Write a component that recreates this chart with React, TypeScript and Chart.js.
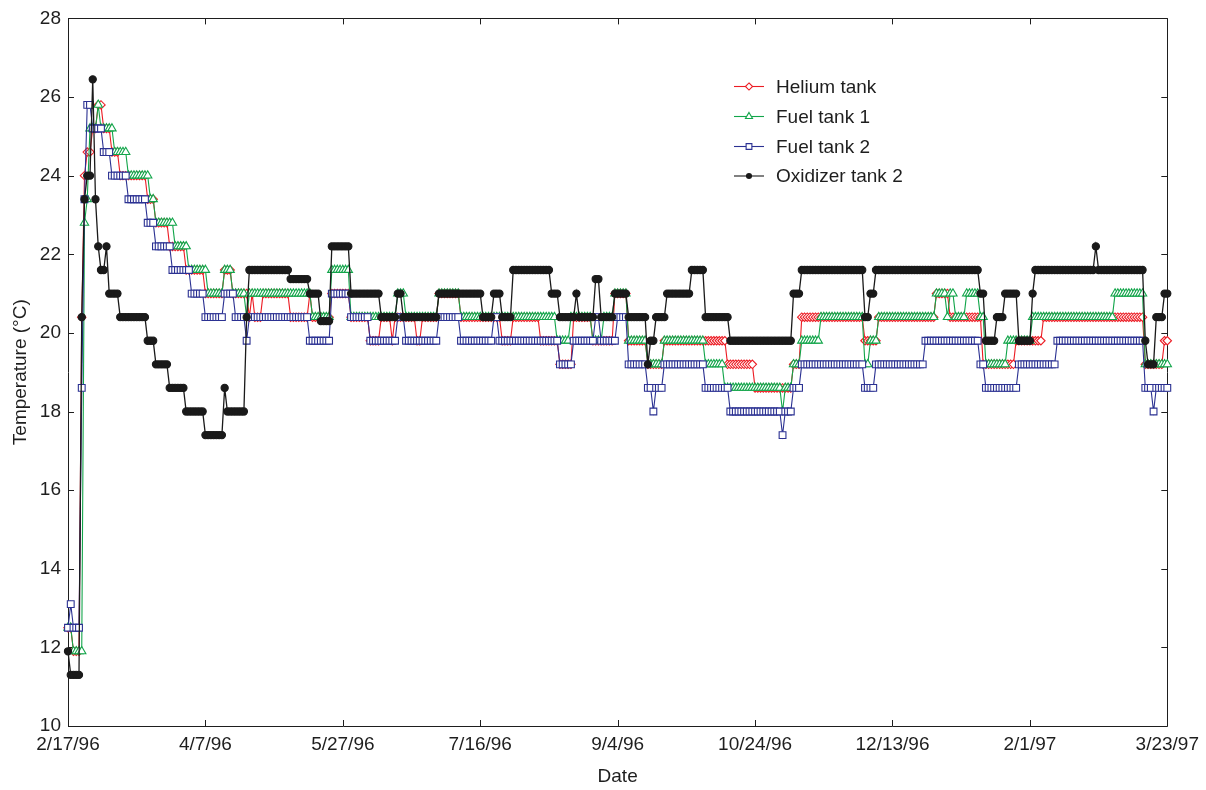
import React, { useEffect, useRef } from "react";
import { Chart, registerables } from "chart.js";

Chart.register(...registerables);

// ---------- axis data ----------
const xTickDays = [0, 50, 100, 150, 200, 250, 300, 350, 400];
const xTickLabels = ["2/17/96", "4/7/96", "5/27/96", "7/16/96", "9/4/96", "10/24/96", "12/13/96", "2/1/97", "3/23/97"];
const yTickValues = [10, 12, 14, 16, 18, 20, 22, 24, 26, 28];
const lastDay = 400;

const seriesNames = ["Helium tank", "Fuel tank 1", "Fuel tank 2", "Oxidizer tank 2"];

// ---------- series data: [first day of run, temperature °C] (daily readings, step runs) ----------
const heliumSteps: [number, number][] = [
  [0, 12.5], [2, 11.9], [5, 20.4], [6, 24.0], [7, 24.6], [9, 25.2], [11, 25.8], [13, 25.2], [16, 24.6],
  [19, 24.0], [29, 23.4], [32, 22.8], [37, 22.2], [43, 21.6], [50, 21.0], [57, 21.6], [60, 21.0],
  [66, 20.4], [67, 21.0], [68, 20.4], [71, 21.0], [81, 20.4], [88, 21.0], [89, 20.4], [96, 21.0],
  [103, 20.4], [110, 19.8], [114, 20.4], [118, 19.8], [119, 20.4], [127, 19.8], [129, 20.4],
  [135, 21.0], [143, 20.4], [158, 19.8], [162, 20.4], [172, 19.8], [179, 19.2], [184, 20.4],
  [191, 19.8], [199, 21.0], [204, 19.8], [211, 19.2], [217, 19.8], [240, 19.2], [250, 18.6],
  [264, 19.2], [267, 20.4], [290, 19.8], [295, 20.4], [316, 21.0], [321, 20.4], [333, 19.2],
  [345, 19.8], [355, 20.4], [392, 19.2], [399, 19.8],
];

const fuel1Steps: [number, number][] = [
  [0, 12.5], [2, 11.9], [6, 22.8], [7, 23.4], [8, 25.2], [11, 25.8], [12, 25.2], [17, 24.6],
  [22, 24.0], [30, 23.4], [32, 22.8], [39, 22.2], [44, 21.6], [51, 21.0], [57, 21.6], [60, 21.0],
  [65, 20.4], [66, 21.0], [89, 20.4], [96, 21.6], [103, 20.4], [120, 21.0], [123, 20.4],
  [135, 21.0], [143, 20.4], [178, 19.8], [183, 20.4], [191, 19.8], [195, 20.4], [199, 21.0],
  [204, 19.8], [211, 19.2], [217, 19.8], [232, 19.2], [239, 18.6], [260, 18.0], [261, 18.6],
  [264, 19.2], [267, 19.8], [274, 20.4], [290, 19.2], [292, 19.8], [295, 20.4], [316, 21.0],
  [320, 20.4], [321, 21.0], [323, 20.4], [327, 21.0], [332, 20.4], [334, 19.2], [342, 19.8],
  [351, 20.4], [381, 21.0], [392, 19.2],
];

const fuel2Steps: [number, number][] = [
  [0, 12.5], [1, 13.1], [2, 12.5], [5, 18.6], [6, 23.4], [7, 25.8], [9, 25.2], [13, 24.6],
  [16, 24.0], [22, 23.4], [29, 22.8], [32, 22.2], [38, 21.6], [45, 21.0], [50, 20.4], [57, 21.0],
  [61, 20.4], [65, 19.8], [66, 20.4], [88, 19.8], [96, 21.0], [103, 20.4], [110, 19.8],
  [120, 20.4], [123, 19.8], [135, 20.4], [143, 19.8], [155, 20.4], [157, 19.8], [179, 19.2],
  [184, 19.8], [192, 20.4], [194, 19.8], [200, 20.4], [204, 19.2], [211, 18.6], [213, 18.0],
  [214, 18.6], [217, 19.2], [232, 18.6], [241, 18.0], [260, 17.4], [261, 18.0], [264, 18.6],
  [267, 19.2], [290, 18.6], [294, 19.2], [312, 19.8], [332, 19.2], [334, 18.6], [346, 19.2],
  [360, 19.8], [392, 18.6], [395, 18.0], [396, 18.6],
];

const oxidizerSteps: [number, number][] = [
  [0, 11.9], [1, 11.3], [5, 20.4], [6, 23.4], [7, 24.0], [9, 26.45], [10, 23.4], [11, 22.2],
  [12, 21.6], [14, 22.2], [15, 21.0], [19, 20.4], [29, 19.8], [32, 19.2], [37, 18.6], [43, 18.0],
  [50, 17.4], [57, 18.6], [58, 18.0], [65, 20.4], [66, 21.6], [81, 21.37], [88, 21.0], [92, 20.3],
  [96, 22.2], [103, 21.0], [114, 20.4], [120, 21.0], [122, 20.4], [135, 21.0], [151, 20.4],
  [155, 21.0], [158, 20.4], [162, 21.6], [176, 21.0], [179, 20.4], [185, 21.0], [186, 20.4],
  [192, 21.37], [194, 20.4], [199, 21.0], [204, 20.4], [211, 19.2], [212, 19.8], [214, 20.4],
  [218, 21.0], [227, 21.6], [232, 20.4], [241, 19.8], [264, 21.0], [267, 21.6], [290, 20.4],
  [292, 21.0], [294, 21.6], [332, 21.0], [334, 19.8], [338, 20.4], [341, 21.0], [346, 19.8],
  [351, 21.0], [352, 21.6], [374, 22.2], [375, 21.6], [392, 19.8], [393, 19.2], [396, 20.4],
  [399, 21.0],
];

// ---------- styling ----------
const COLORS = ["#ec1c24", "#12a54a", "#2b3192", "#1a1a1a"];
const FONT = "'Liberation Sans', Arial, Helvetica, sans-serif";
const TEXT = "#1e1e1e";

function expandSteps(steps: [number, number][], end: number) {
  const pts: { x: number; y: number }[] = [];
  for (let i = 0; i < steps.length; i++) {
    const [from, v] = steps[i];
    const to = i + 1 < steps.length ? steps[i + 1][0] - 1 : end;
    for (let d = from; d <= to; d++) pts.push({ x: d, y: v });
  }
  return pts;
}

function drawMarker(ctx: CanvasRenderingContext2D, kind: string, x: number, y: number, r: number, color: string) {
  ctx.save();
  ctx.beginPath();
  if (kind === "rectRot") {
    ctx.moveTo(x, y - r);
    ctx.lineTo(x + r, y);
    ctx.lineTo(x, y + r);
    ctx.lineTo(x - r, y);
    ctx.closePath();
  } else if (kind === "triangle") {
    for (let k = 0; k < 3; k++) {
      const a = (k * 2 * Math.PI) / 3;
      const px = x + Math.sin(a) * r;
      const py = y - Math.cos(a) * r;
      if (k === 0) ctx.moveTo(px, py);
      else ctx.lineTo(px, py);
    }
    ctx.closePath();
  } else if (kind === "rect") {
    const s = Math.SQRT1_2 * r;
    ctx.rect(x - s, y - s, 2 * s, 2 * s);
  } else {
    ctx.arc(x, y, r, 0, Math.PI * 2);
  }
  if (kind === "circle") {
    ctx.fillStyle = color;
    ctx.fill();
  } else {
    ctx.fillStyle = "#ffffff";
    ctx.fill();
    ctx.lineWidth = 1.1;
    ctx.strokeStyle = color;
    ctx.stroke();
  }
  ctx.restore();
}

const POINT_STYLES = ["rectRot", "triangle", "rect", "circle"];
const POINT_RADII = [4.2, 4.8, 4.8, 3.6];

const framePlugin = {
  id: "frameTicks",
  beforeDatasetsDraw(chart: any) {
    const { ctx, chartArea } = chart;
    const { left, right, top, bottom } = chartArea;
    const xs = chart.scales.x;
    const ys = chart.scales.y;
    const tick = 6;
    ctx.save();
    ctx.strokeStyle = "#1e1e1e";
    ctx.lineWidth = 1;
    ctx.beginPath();
    ctx.rect(Math.round(left) + 0.5, Math.round(top) + 0.5, Math.round(right - left), Math.round(bottom - top));
    for (const v of yTickValues) {
      const py = Math.round(ys.getPixelForValue(v)) + 0.5;
      ctx.moveTo(left, py);
      ctx.lineTo(left + tick, py);
      ctx.moveTo(right, py);
      ctx.lineTo(right - tick, py);
    }
    for (const d of xTickDays) {
      const px = Math.round(xs.getPixelForValue(d)) + 0.5;
      ctx.moveTo(px, bottom);
      ctx.lineTo(px, bottom - tick);
      ctx.moveTo(px, top);
      ctx.lineTo(px, top + tick);
    }
    ctx.stroke();
    ctx.restore();
  },
};

const legendPlugin = {
  id: "insideLegend",
  afterDraw(chart: any) {
    const ctx: CanvasRenderingContext2D = chart.ctx;
    const rows = [86.5, 116.5, 146.5, 176];
    ctx.save();
    ctx.font = `19px ${FONT}`;
    ctx.textBaseline = "middle";
    ctx.textAlign = "left";
    seriesNames.forEach((name, i) => {
      const y = rows[i];
      ctx.beginPath();
      ctx.strokeStyle = COLORS[i];
      ctx.lineWidth = 1.1;
      ctx.moveTo(734, y);
      ctx.lineTo(764, y);
      ctx.stroke();
      drawMarker(ctx, POINT_STYLES[i], 749, y, POINT_RADII[i] * 0.85, COLORS[i]);
      ctx.fillStyle = TEXT;
      ctx.fillText(name, 776, y + 1);
    });
    ctx.restore();
  },
};

export default function App() {
  const canvasRef = useRef<HTMLCanvasElement | null>(null);

  useEffect(() => {
    document.body.style.margin = "0";
    const canvas = canvasRef.current;
    if (!canvas) return;
    const allSteps = [heliumSteps, fuel1Steps, fuel2Steps, oxidizerSteps];
    const datasets = allSteps.map((steps, i) => ({
      label: seriesNames[i],
      data: expandSteps(steps, lastDay),
      borderColor: COLORS[i],
      borderWidth: i === 3 ? 1.3 : 1.1,
      backgroundColor: "#ffffff",
      pointStyle: POINT_STYLES[i],
      pointRadius: POINT_RADII[i],
      pointBorderWidth: 1.1,
      pointBorderColor: COLORS[i],
      pointBackgroundColor: i === 3 ? COLORS[i] : "#ffffff",
      tension: 0,
      fill: false,
      clip: false as any,
      order: 4 - i,
    }));

    const chart = new Chart(canvas, {
      type: "line",
      data: { datasets },
      options: {
        responsive: false,
        animation: false,
        events: [],
        layout: { padding: { top: 15, right: 38, left: 0, bottom: 0 } },
        plugins: {
          legend: { display: false },
          tooltip: { enabled: false },
        },
        scales: {
          x: {
            type: "linear",
            min: 0,
            max: lastDay,
            grid: { display: false, drawTicks: false },
            border: { display: false },
            afterBuildTicks: (scale: any) => {
              scale.ticks = xTickDays.map((v) => ({ value: v }));
            },
            afterFit: (scale: any) => {
              scale.height = 64;
            },
            ticks: {
              autoSkip: false,
              maxRotation: 0,
              padding: 7,
              color: TEXT,
              font: { family: FONT, size: 19 },
              callback: (value: any) => {
                const idx = xTickDays.indexOf(Number(value));
                return idx >= 0 ? xTickLabels[idx] : "";
              },
            },
            title: {
              display: true,
              text: "Date",
              color: TEXT,
              font: { family: FONT, size: 19 },
              padding: { top: 0, bottom: 2 },
            },
          },
          y: {
            type: "linear",
            min: 10,
            max: 28,
            grid: { display: false, drawTicks: false },
            border: { display: false },
            afterBuildTicks: (scale: any) => {
              scale.ticks = yTickValues.map((v) => ({ value: v }));
            },
            afterFit: (scale: any) => {
              scale.width = 68;
            },
            ticks: {
              padding: 7,
              color: TEXT,
              font: { family: FONT, size: 19 },
            },
            title: {
              display: true,
              text: "Temperature (°C)",
              color: TEXT,
              font: { family: FONT, size: 19 },
              padding: { top: 9, bottom: 0 },
            },
          },
        },
      },
      plugins: [framePlugin, legendPlugin],
    });

    return () => {
      chart.destroy();
    };
  }, []);

  return (
    <div style={{ width: 1206, height: 790, position: "relative", background: "#ffffff" }}>
      <canvas ref={canvasRef} width={1206} height={790} style={{ display: "block" }} />
    </div>
  );
}
